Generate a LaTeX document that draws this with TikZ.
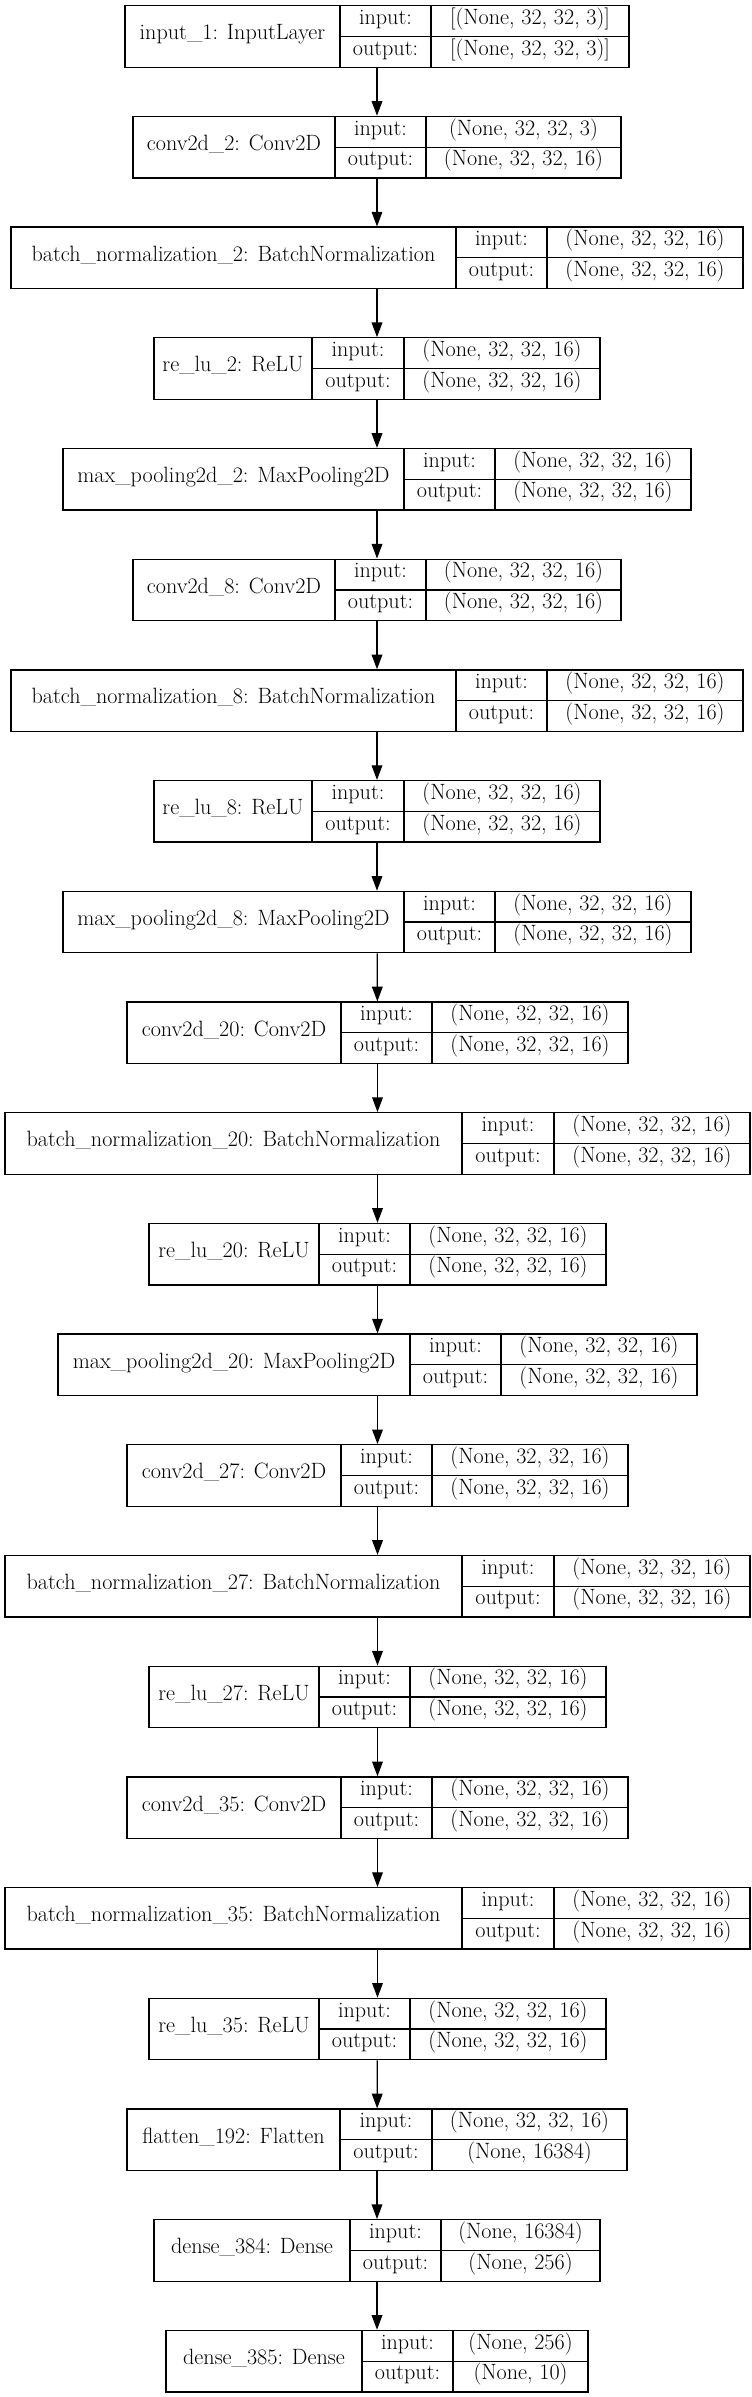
\documentclass[tikz,border=0pt]{standalone}
\usetikzlibrary{arrows.meta}

\begin{document}
\begin{tikzpicture}[x=0.75pt, y=-0.75pt,
    layer/.style ={draw, line width=0.95pt, minimum height=46.125pt, inner sep=0pt},
    field/.style ={inner sep=0pt, font=\fontsize{16.6}{19}\selectfont, text height=0.75em, text depth=0.25em},
    flow/.style ={line width=0.95pt, -{Triangle[length=11pt, width=8pt]}}]
   \useasboundingbox (0,0) rectangle (751,2397);

   \foreach \id/\xl/\xa/\xb/\xr/\lab/\vin/\vout [count=\k] in {
      input1/125/340/431/629/{input\_1: InputLayer}/{[(None, 32, 32, 3)]}/{[(None, 32, 32, 3)]},
      conv2/133/335/426/621/{conv2d\_2: Conv2D}/{(None, 32, 32, 3)}/{(None, 32, 32, 16)},
      bn2/11/456/547/743/{batch\_normalization\_2: BatchNormalization}/{(None, 32, 32, 16)}/{(None, 32, 32, 16)},
      relu2/154/312/404/600/{re\_lu\_2: ReLU}/{(None, 32, 32, 16)}/{(None, 32, 32, 16)},
      pool2/63/404/495/691/{max\_pooling2d\_2: MaxPooling2D}/{(None, 32, 32, 16)}/{(None, 32, 32, 16)},
      conv8/133/335/426/621/{conv2d\_8: Conv2D}/{(None, 32, 32, 16)}/{(None, 32, 32, 16)},
      bn8/11/456/547/743/{batch\_normalization\_8: BatchNormalization}/{(None, 32, 32, 16)}/{(None, 32, 32, 16)},
      relu8/154/312/404/600/{re\_lu\_8: ReLU}/{(None, 32, 32, 16)}/{(None, 32, 32, 16)},
      pool8/63/404/495/691/{max\_pooling2d\_8: MaxPooling2D}/{(None, 32, 32, 16)}/{(None, 32, 32, 16)},
      conv20/127/341/432/628/{conv2d\_20: Conv2D}/{(None, 32, 32, 16)}/{(None, 32, 32, 16)},
      bn20/5/462/554/750/{batch\_normalization\_20: BatchNormalization}/{(None, 32, 32, 16)}/{(None, 32, 32, 16)},
      relu20/149/319/410/606/{re\_lu\_20: ReLU}/{(None, 32, 32, 16)}/{(None, 32, 32, 16)},
      pool20/58/410/501/697/{max\_pooling2d\_20: MaxPooling2D}/{(None, 32, 32, 16)}/{(None, 32, 32, 16)},
      conv27/127/341/432/628/{conv2d\_27: Conv2D}/{(None, 32, 32, 16)}/{(None, 32, 32, 16)},
      bn27/5/462/554/750/{batch\_normalization\_27: BatchNormalization}/{(None, 32, 32, 16)}/{(None, 32, 32, 16)},
      relu27/149/319/410/606/{re\_lu\_27: ReLU}/{(None, 32, 32, 16)}/{(None, 32, 32, 16)},
      conv35/127/341/432/628/{conv2d\_35: Conv2D}/{(None, 32, 32, 16)}/{(None, 32, 32, 16)},
      bn35/5/462/554/750/{batch\_normalization\_35: BatchNormalization}/{(None, 32, 32, 16)}/{(None, 32, 32, 16)},
      relu35/149/319/410/606/{re\_lu\_35: ReLU}/{(None, 32, 32, 16)}/{(None, 32, 32, 16)},
      flatten192/127/340/432/627/{flatten\_192: Flatten}/{(None, 32, 32, 16)}/{(None, 16384)},
      dense384/154/350/441/600/{dense\_384: Dense}/{(None, 16384)}/{(None, 256)},
      dense385/166/362/453/588/{dense\_385: Dense}/{(None, 256)}/{(None, 10)}}
   {
      \pgfmathsetmacro\ytop{5.7+(\k-1)*110.7}
      \node[layer, minimum width={(\xr-\xl)*0.75pt}] (\id) at ({(\xl+\xr)/2},{\ytop+30.75}) {};
      \draw[line width=0.95pt] (\xa,\ytop) -- (\xa,{\ytop+61.5})
                               (\xb,\ytop) -- (\xb,{\ytop+61.5})
                               (\xa,{\ytop+30.75}) -- (\xr,{\ytop+30.75});
      \node[field] (\id-name) at ({(\xl+\xa)/2},{\ytop+30.75}) {\lab};
      \node[field] (\id-in)   at ({(\xa+\xb)/2},{\ytop+15.4}) {input:};
      \node[field] (\id-out)  at ({(\xa+\xb)/2},{\ytop+46.1}) {output:};
      \node[field] (\id-vin)  at ({(\xb+\xr)/2},{\ytop+15.4}) {\vin};
      \node[field] (\id-vout) at ({(\xb+\xr)/2},{\ytop+46.1}) {\vout};
   }

   \draw[flow] (input1) to (conv2);
   \draw[flow] (conv2) to (bn2);
   \draw[flow] (bn2) to (relu2);
   \draw[flow] (relu2) to (pool2);
   \draw[flow] (pool2) to (conv8);
   \draw[flow] (conv8) to (bn8);
   \draw[flow] (bn8) to (relu8);
   \draw[flow] (relu8) to (pool8);
   \draw[flow] (pool8) to (conv20);
   \draw[flow] (conv20) to (bn20);
   \draw[flow] (bn20) to (relu20);
   \draw[flow] (relu20) to (pool20);
   \draw[flow] (pool20) to (conv27);
   \draw[flow] (conv27) to (bn27);
   \draw[flow] (bn27) to (relu27);
   \draw[flow] (relu27) to (conv35);
   \draw[flow] (conv35) to (bn35);
   \draw[flow] (bn35) to (relu35);
   \draw[flow] (relu35) to (flatten192);
   \draw[flow] (flatten192) to (dense384);
   \draw[flow] (dense384) to (dense385);
 \end{tikzpicture}
\end{document}
